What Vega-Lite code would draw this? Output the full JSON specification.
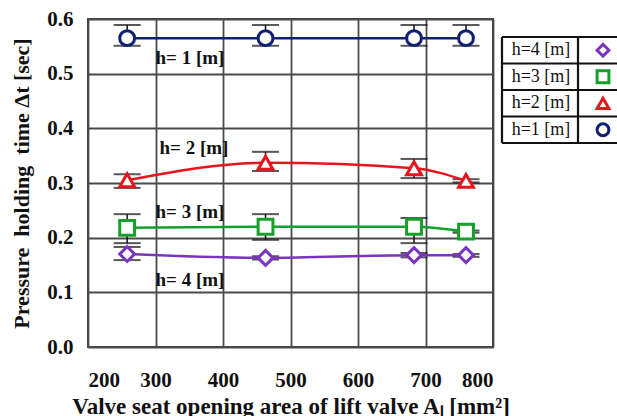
{
  "$schema": "https://vega.github.io/schema/vega-lite/v6.json",
  "autosize": {"type": "pad"},
  "padding": {"left": 9, "top": 7, "right": 0, "bottom": 0},
  "background": "white",
  "bounds": "flush",
  "spacing": 9,
  "config": {
    "view": {"stroke": "#444444", "strokeWidth": 2},
    "font": "Liberation Serif",
    "axis": {
      "domain": false,
      "ticks": false,
      "gridColor": "#4a4a4a",
      "gridWidth": 1.8,
      "gridOpacity": 1,
      "labelFont": "Liberation Serif",
      "labelFontWeight": "bold",
      "labelFontSize": 21,
      "labelColor": "#111111",
      "titleFont": "Liberation Serif",
      "titleFontWeight": "bold",
      "titleFontSize": 22,
      "titleColor": "#111111"
    }
  },
  "hconcat": [
    {
      "width": 405,
      "height": 328,
      "data": {
        "values": [
          {"series": "h=1 [m]", "area": 258, "t": 0.565, "lo": 0.551, "hi": 0.589},
          {"series": "h=1 [m]", "area": 463, "t": 0.565, "lo": 0.551, "hi": 0.589},
          {"series": "h=1 [m]", "area": 683, "t": 0.565, "lo": 0.551, "hi": 0.589},
          {"series": "h=1 [m]", "area": 760, "t": 0.565, "lo": 0.551, "hi": 0.589},
          {"series": "h=2 [m]", "area": 258, "t": 0.305, "lo": 0.291, "hi": 0.316},
          {"series": "h=2 [m]", "area": 463, "t": 0.337, "lo": 0.322, "hi": 0.357},
          {"series": "h=2 [m]", "area": 683, "t": 0.327, "lo": 0.309, "hi": 0.344},
          {"series": "h=2 [m]", "area": 760, "t": 0.304, "lo": 0.301, "hi": 0.307},
          {"series": "h=3 [m]", "area": 258, "t": 0.218, "lo": 0.190, "hi": 0.243},
          {"series": "h=3 [m]", "area": 463, "t": 0.220, "lo": 0.196, "hi": 0.243},
          {"series": "h=3 [m]", "area": 683, "t": 0.220, "lo": 0.190, "hi": 0.236},
          {"series": "h=3 [m]", "area": 760, "t": 0.211, "lo": 0.209, "hi": 0.213},
          {"series": "h=4 [m]", "area": 258, "t": 0.170, "lo": 0.159, "hi": 0.183},
          {"series": "h=4 [m]", "area": 463, "t": 0.163, "lo": 0.160, "hi": 0.166},
          {"series": "h=4 [m]", "area": 683, "t": 0.168, "lo": 0.164, "hi": 0.172},
          {"series": "h=4 [m]", "area": 760, "t": 0.168, "lo": 0.165, "hi": 0.170}
        ]
      },
      "encoding": {
        "x": {
          "field": "area", "type": "quantitative",
          "scale": {"domain": [200, 800], "nice": false},
          "axis": {"values": [200, 300, 400, 500, 600, 700, 800], "labelPadding": 22, "titlePadding": 5, "titleFontSize": 23,
                   "title": "Valve seat opening area of lift valve Aₗ  [mm²]"}
        }
      },
      "layer": [
        {
          "mark": {"type": "rule", "color": "#111111", "strokeWidth": 1.5},
          "encoding": {
            "y": {"field": "lo", "type": "quantitative",
                  "scale": {"domain": [0, 0.6], "nice": false},
                  "axis": {"values": [0, 0.1, 0.2, 0.3, 0.4, 0.5, 0.6], "format": ".1f", "labelPadding": 15, "titlePadding": 13,
                           "title": "Pressure\u00a0\u00a0holding\u00a0\u00a0time Δt [sec]"}},
            "y2": {"field": "hi"}
          }
        },
        {
          "mark": {"type": "tick", "orient": "horizontal", "color": "#111111", "size": 27, "thickness": 2},
          "encoding": {"y": {"field": "lo", "type": "quantitative"}}
        },
        {
          "mark": {"type": "tick", "orient": "horizontal", "color": "#111111", "size": 27, "thickness": 2},
          "encoding": {"y": {"field": "hi", "type": "quantitative"}}
        },
        {
          "mark": {"type": "line", "interpolate": "monotone", "strokeWidth": 2.5},
          "encoding": {
            "y": {"field": "t", "type": "quantitative"},
            "color": {"field": "series", "type": "nominal", "legend": null,
                      "scale": {"domain": ["h=4 [m]", "h=3 [m]", "h=2 [m]", "h=1 [m]"],
                                "range": ["#7a35c0", "#14a02a", "#e8141c", "#102070"]}}
          }
        },
        {
          "mark": {"type": "point", "filled": false, "fill": "white", "fillOpacity": 1, "opacity": 1, "strokeWidth": 3, "size": 220},
          "encoding": {
            "y": {"field": "t", "type": "quantitative"},
            "color": {"field": "series", "type": "nominal", "legend": null},
            "shape": {"field": "series", "type": "nominal", "legend": null,
                      "scale": {"domain": ["h=4 [m]", "h=3 [m]", "h=2 [m]", "h=1 [m]"],
                                "range": ["diamond", "square", "triangle-up", "circle"]}}
          }
        },
        {
          "data": {
            "values": [
              {"label": "h= 1 [m]", "area": 351, "t": 0.529},
              {"label": "h= 2 [m]", "area": 357, "t": 0.364},
              {"label": "h= 3 [m]", "area": 351, "t": 0.247},
              {"label": "h= 4 [m]", "area": 351, "t": 0.123}
            ]
          },
          "mark": {"type": "text", "font": "Liberation Serif", "fontWeight": "bold", "fontSize": 19, "color": "#111111", "align": "center", "baseline": "middle"},
          "encoding": {
            "y": {"field": "t", "type": "quantitative"},
            "text": {"field": "label"}
          }
        }
      ]
    },
    {
      "width": 120,
      "height": 124,
      "view": {"stroke": null},
      "layer": [
        {
          "data": {
            "values": [
              {"c": 0, "c2": 120, "r": 0.5, "r2": 0.5},
              {"c": 0, "c2": 120, "r": 1.5, "r2": 1.5},
              {"c": 0, "c2": 120, "r": 2.5, "r2": 2.5},
              {"c": 0, "c2": 120, "r": 3.5, "r2": 3.5},
              {"c": 0, "c2": 120, "r": 4.5, "r2": 4.5},
              {"c": 0, "c2": 0, "r": 0.5, "r2": 4.5},
              {"c": 76, "c2": 76, "r": 0.5, "r2": 4.5},
              {"c": 120, "c2": 120, "r": 0.5, "r2": 4.5}
            ]
          },
          "mark": {"type": "rule", "color": "#111111", "strokeWidth": 2.2},
          "encoding": {
            "x": {"field": "c", "type": "quantitative", "scale": {"domain": [0, 120], "nice": false, "zero": false}, "axis": null},
            "x2": {"field": "c2"},
            "y": {"field": "r", "type": "quantitative", "scale": {"domain": [0.5, 5.18], "nice": false, "zero": false}, "axis": null},
            "y2": {"field": "r2"}
          }
        },
        {
          "data": {
            "values": [
              {"series": "h=4 [m]", "row": 4},
              {"series": "h=3 [m]", "row": 3},
              {"series": "h=2 [m]", "row": 2},
              {"series": "h=1 [m]", "row": 1}
            ]
          },
          "layer": [
            {
              "mark": {"type": "text", "font": "Liberation Serif", "fontSize": 18, "color": "#111111", "align": "center", "baseline": "middle"},
              "encoding": {
                "x": {"datum": 39, "type": "quantitative"},
                "y": {"field": "row", "type": "quantitative"},
                "text": {"field": "series"}
              }
            },
            {
              "mark": {"type": "point", "filled": false, "fill": "white", "fillOpacity": 1, "opacity": 1, "strokeWidth": 3, "size": 140},
              "encoding": {
                "x": {"datum": 101, "type": "quantitative"},
                "y": {"field": "row", "type": "quantitative"},
                "color": {"field": "series", "type": "nominal", "legend": null,
                          "scale": {"domain": ["h=4 [m]", "h=3 [m]", "h=2 [m]", "h=1 [m]"],
                                    "range": ["#7a35c0", "#14a02a", "#e8141c", "#102070"]}},
                "shape": {"field": "series", "type": "nominal", "legend": null,
                          "scale": {"domain": ["h=4 [m]", "h=3 [m]", "h=2 [m]", "h=1 [m]"],
                                    "range": ["diamond", "square", "triangle-up", "circle"]}}
              }
            }
          ]
        }
      ]
    }
  ],
  "resolve": {"scale": {"x": "independent", "y": "independent", "color": "independent", "shape": "independent"}}
}
